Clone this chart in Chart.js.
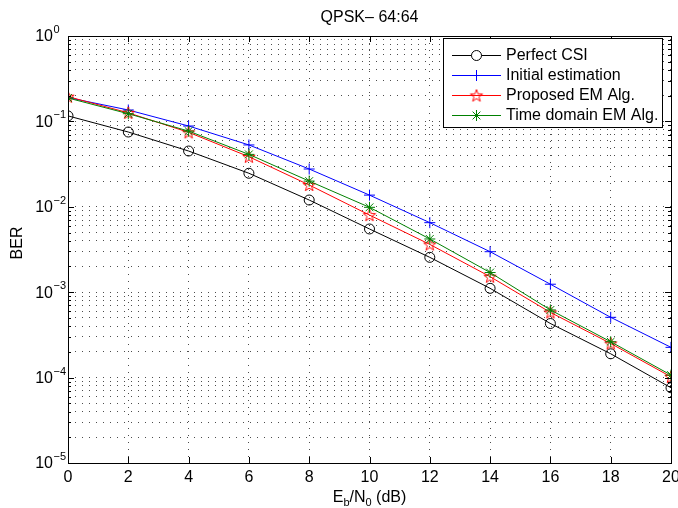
<!DOCTYPE html>
<html>
<head>
<meta charset="utf-8">
<script src="https://cdn.jsdelivr.net/npm/chart.js@4.4.1/dist/chart.umd.min.js"></script>
<style>
  html, body { margin: 0; padding: 0; background: #fff; }
  #wrap { width: 678px; height: 508px; }
</style>
</head>
<body>
<div id="wrap"><canvas id="chart" width="678" height="508"></canvas></div>
<script>
// values
const snrDb = [0, 2, 4, 6, 8, 10, 12, 14, 16, 18, 20];
const perfectCsi = [0.116, 0.0751, 0.045, 0.0247, 0.012, 0.0055, 0.00256, 0.00111, 0.00043, 0.00019, 0.000076];
const initialEstimation = [0.19, 0.136, 0.0883, 0.053, 0.0277, 0.0137, 0.00652, 0.00298, 0.00124, 0.000508, 0.000226];
const proposedEm = [0.195, 0.126, 0.0745, 0.0386, 0.018, 0.008, 0.00363, 0.00152, 0.00058, 0.000251, 0.000102];
const timeDomainEm = [0.188, 0.123, 0.077, 0.0411, 0.02, 0.00986, 0.0042, 0.0017, 0.00062, 0.000263, 0.000107];
const seriesNames = ['Perfect CSI', 'Initial estimation', 'Proposed EM Alg.', 'Time domain EM Alg.'];
const xTicks = [0, 2, 4, 6, 8, 10, 12, 14, 16, 18, 20];
const yExponents = [0, -1, -2, -3, -4, -5];

const FONT = "'Liberation Sans', Arial, Helvetica, sans-serif";
const GRID = 'rgba(0,0,0,0.7)';

// red pentagram marker (matlab 'p')
function pentagram(color, r) {
  const c = document.createElement('canvas');
  const s = Math.ceil(r * 2 + 3);
  c.width = s; c.height = s;
  const g = c.getContext('2d');
  g.strokeStyle = color;
  g.lineWidth = 1;
  g.beginPath();
  for (let i = 0; i < 10; i++) {
    const rr = i % 2 ? r * 0.4 : r;
    const a = -Math.PI / 2 + i * Math.PI / 5;
    const px = s / 2 + rr * Math.cos(a), py = s / 2 + 0.5 + rr * Math.sin(a);
    i ? g.lineTo(px, py) : g.moveTo(px, py);
  }
  g.closePath();
  g.stroke();
  return c;
}
const starImg = pentagram('#ff0000', 6.5);

const pts = arr => snrDb.map((x, i) => ({ x: x, y: arr[i] }));

const styles = [
  { color: '#000000', pointStyle: 'circle', radius: 5, order: 4 },
  { color: '#0000ff', pointStyle: 'cross', radius: 5.5, order: 3 },
  { color: '#ff0000', pointStyle: starImg, radius: 6, order: 2 },
  { color: '#008000', pointStyle: 'star', radius: 5.5, order: 1 }
];
const values = [perfectCsi, initialEstimation, proposedEm, timeDomainEm];

const datasets = values.map((v, i) => ({
  label: seriesNames[i],
  data: pts(v),
  borderColor: styles[i].color,
  backgroundColor: styles[i].color,
  borderWidth: 1,
  pointStyle: styles[i].pointStyle,
  pointRadius: styles[i].radius,
  pointBorderColor: styles[i].color,
  pointBackgroundColor: 'rgba(0,0,0,0)',
  pointBorderWidth: 1,
  order: styles[i].order,
  tension: 0
}));

const decorations = {
  id: 'decorations',
  afterDraw(chart) {
    const ctx = chart.ctx;
    const a = chart.chartArea;
    const xs = chart.scales.x, ys = chart.scales.y;
    ctx.save();

    // box
    ctx.strokeStyle = '#000';
    ctx.lineWidth = 1;
    ctx.strokeRect(Math.round(a.left) + 0.5, Math.round(a.top) + 0.5,
      Math.round(a.right - a.left), Math.round(a.bottom - a.top));

    // inward ticks
    ctx.beginPath();
    xTicks.forEach(t => {
      const px = Math.round(xs.getPixelForValue(t)) + 0.5;
      ctx.moveTo(px, a.bottom); ctx.lineTo(px, a.bottom - 6);
      ctx.moveTo(px, a.top); ctx.lineTo(px, a.top + 6);
    });
    ys.ticks.forEach(t => {
      const py = Math.round(ys.getPixelForValue(t.value)) + 0.5;
      const major = Math.abs(Math.log10(t.value) - Math.round(Math.log10(t.value))) < 1e-6;
      const len = major ? 6 : 3;
      ctx.moveTo(a.left, py); ctx.lineTo(a.left + len, py);
      ctx.moveTo(a.right, py); ctx.lineTo(a.right - len, py);
    });
    ctx.stroke();

    ctx.fillStyle = '#000';
    // x tick labels
    ctx.font = '16px ' + FONT;
    ctx.textAlign = 'center';
    ctx.textBaseline = 'middle';
    xTicks.forEach(t => ctx.fillText(String(t), xs.getPixelForValue(t), a.bottom + 15));

    // y tick labels 10^n
    yExponents.forEach(e => {
      const py = ys.getPixelForValue(Math.pow(10, e));
      ctx.font = '16px ' + FONT;
      ctx.textAlign = 'right';
      ctx.textBaseline = 'middle';
      ctx.fillText('10', 53, py + 1);
      ctx.font = '11px ' + FONT;
      ctx.textAlign = 'left';
      ctx.fillText(e === 0 ? '0' : '\u2212' + Math.abs(e), 53.5, py - 6);
    });

    // title
    ctx.font = '16px ' + FONT;
    ctx.textAlign = 'center';
    ctx.textBaseline = 'middle';
    ctx.fillText('QPSK\u2013 64:64', (a.left + a.right) / 2, 18);

    // y title
    ctx.save();
    ctx.translate(18, 243);
    ctx.rotate(-Math.PI / 2);
    ctx.fillText('BER', 0, 0);
    ctx.restore();

    // x title with subscripts
    const parts = [['E', 16, 0], ['b', 11, 4], ['/N', 16, 0], ['0', 11, 4], [' (dB)', 16, 0]];
    ctx.textBaseline = 'alphabetic';
    ctx.textAlign = 'left';
    let w = 0;
    parts.forEach(p => { ctx.font = p[1] + 'px ' + FONT; w += ctx.measureText(p[0]).width; });
    let cx = (a.left + a.right) / 2 - w / 2;
    parts.forEach(p => {
      ctx.font = p[1] + 'px ' + FONT;
      ctx.fillText(p[0], cx, 502 + p[2]);
      cx += ctx.measureText(p[0]).width;
    });

    // legend
    ctx.fillStyle = '#fff';
    ctx.fillRect(443.5, 38.5, 219, 89);
    ctx.strokeStyle = '#000';
    ctx.strokeRect(443.5, 38.5, 219, 89);
    chart.data.datasets.forEach((ds, i) => {
      const ry = 55 + i * 20;
      ctx.strokeStyle = ds.borderColor;
      ctx.lineWidth = 1;
      ctx.beginPath();
      ctx.moveTo(452, ry + 0.5); ctx.lineTo(501, ry + 0.5);
      ctx.stroke();
      Chart.helpers.drawPoint(ctx, {
        pointStyle: ds.pointStyle, radius: ds.pointRadius, rotation: 0,
        borderWidth: 1
      }, 476.5, ry + 0.5);
      ctx.fillStyle = '#000';
      ctx.font = '16px ' + FONT;
      ctx.textAlign = 'left';
      ctx.textBaseline = 'middle';
      ctx.fillText(ds.label, 506, ry + 1);
    });
    ctx.restore();
  }
};

const ctx = document.getElementById('chart');
const chart = new Chart(ctx, {
  type: 'line',
  data: { datasets: datasets },
  options: {
    responsive: false,
    animation: false,
    devicePixelRatio: 1,
    layout: { padding: { left: 0, right: 7, top: 36, bottom: 0 } },
    plugins: { legend: { display: false }, tooltip: { enabled: false }, title: { display: false } },
    scales: {
      x: {
        type: 'linear', min: 0, max: 20,
        ticks: { stepSize: 2, display: false },
        grid: { color: GRID, lineWidth: 1, drawTicks: false },
        border: { display: false, dash: [1, 6] },
        afterBuildTicks: s => { s.ticks = xTicks.map(v => ({ value: v })); },
        afterFit: s => { s.height = 45; }
      },
      y: {
        type: 'logarithmic', min: 1e-5, max: 1,
        ticks: { display: false },
        grid: { color: GRID, lineWidth: 1, drawTicks: false },
        border: { display: false, dash: [1, 6] },
        afterBuildTicks: s => {
          const t = [];
          for (let e = -5; e < 0; e++) for (let m = 1; m < 10; m++) t.push({ value: m * Math.pow(10, e) });
          t.push({ value: 1 });
          s.ticks = t;
        },
        afterFit: s => { s.width = 68; }
      }
    }
  },
  plugins: [decorations]
});
</script>
</body>
</html>
